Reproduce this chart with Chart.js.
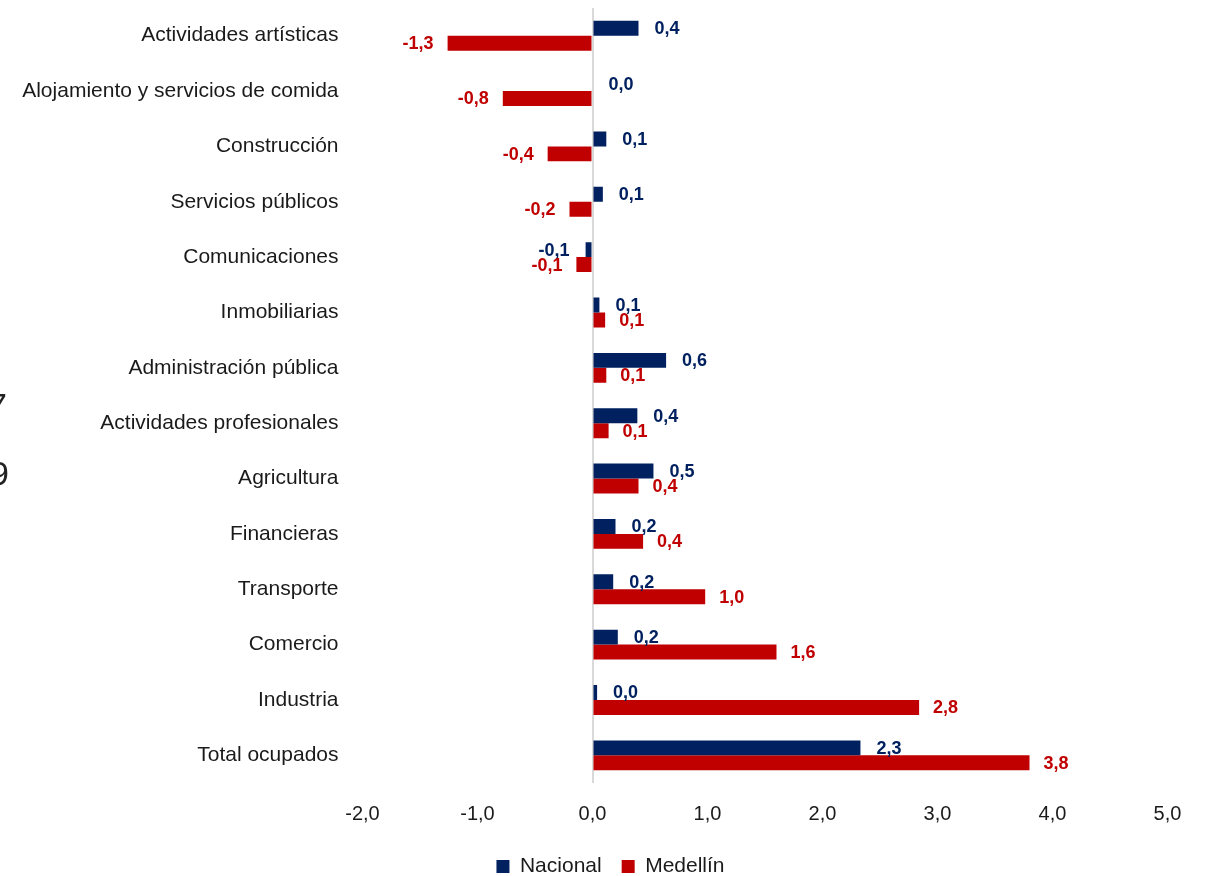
<!DOCTYPE html>
<html lang="es">
<head>
<meta charset="utf-8">
<script src="https://cdn.jsdelivr.net/npm/chart.js@4.4.1/dist/chart.umd.min.js"></script>
<style>
  html, body { margin: 0; padding: 0; background: #ffffff; }
  #wrap { width: 1211px; height: 876px; position: relative; }
</style>
</head>
<body>
<div id="wrap"><canvas id="grafico"></canvas></div>
<script>
// Sectores (de arriba hacia abajo)
const sectores = [
  'Actividades artísticas',
  'Alojamiento y servicios de comida',
  'Construcción',
  'Servicios públicos',
  'Comunicaciones',
  'Inmobiliarias',
  'Administración pública',
  'Actividades profesionales',
  'Agricultura',
  'Financieras',
  'Transporte',
  'Comercio',
  'Industria',
  'Total ocupados'
];

// Contribución por sector (p.p.)
const nacional = [0.40, 0.00, 0.12, 0.09, -0.06, 0.06, 0.64, 0.39, 0.53, 0.20, 0.18, 0.22, 0.04, 2.33];
const medellin = [-1.26, -0.78, -0.39, -0.20, -0.14, 0.11, 0.12, 0.14, 0.40, 0.44, 0.98, 1.60, 2.84, 3.80];

// Eje x
const ejeMin = -2;
const ejeMax = 5;

const colores = {
  nacional: '#002060',
  medellin: '#C00000',
  texto: '#1a1a1a',
  cero: '#d9d9d9'
};

const fuente = "'Liberation Sans', Arial, sans-serif";

function coma(v) {
  return v.toFixed(1).replace('.', ',');
}

// Etiquetas de datos al final de cada barra
const etiquetasDatos = {
  id: 'etiquetasDatos',
  afterDatasetsDraw(chart) {
    const ctx = chart.ctx;
    ctx.save();
    ctx.font = "bold 18px " + fuente;
    ctx.textBaseline = 'middle';
    chart.data.datasets.forEach((ds, i) => {
      const meta = chart.getDatasetMeta(i);
      const sep = i === 0 ? 16 : 14;
      meta.data.forEach((bar, j) => {
        const v = ds.data[j];
        ctx.fillStyle = ds.backgroundColor;
        if (v < 0) {
          ctx.textAlign = 'right';
          ctx.fillText(coma(v), bar.x - sep, bar.y + 1);
        } else {
          ctx.textAlign = 'left';
          ctx.fillText(coma(v), bar.x + sep, bar.y + 1);
        }
      });
    });
    ctx.restore();
  }
};

// Restos de texto recortados en el borde izquierdo
const recortes = {
  id: 'recortes',
  afterDraw(chart) {
    const ctx = chart.ctx;
    ctx.save();
    ctx.font = "34px " + fuente;
    ctx.fillStyle = '#222222';
    ctx.textAlign = 'right';
    ctx.textBaseline = 'alphabetic';
    ctx.fillText('7', 7, 417);
    ctx.fillText('9', 9, 485);
    ctx.restore();
  }
};

document.addEventListener('DOMContentLoaded', function() {
  const canvas = document.getElementById('grafico');
  new Chart(canvas, {
    type: 'bar',
    data: {
      labels: sectores,
      datasets: [
        {
          label: 'Nacional',
          data: nacional,
          backgroundColor: colores.nacional,
          barPercentage: 1,
          categoryPercentage: 0.54
        },
        {
          label: 'Medellín',
          data: medellin,
          backgroundColor: colores.medellin,
          barPercentage: 1,
          categoryPercentage: 0.54
        }
      ]
    },
    options: {
      indexAxis: 'y',
      responsive: true,
      maintainAspectRatio: false,
      animation: false,
      layout: {
        padding: { top: 8, right: 0, bottom: -11, left: 10 }
      },
      scales: {
        x: {
          min: ejeMin,
          max: ejeMax,
          ticks: {
            stepSize: 1,
            padding: 19,
            color: colores.texto,
            font: { family: fuente, size: 20 },
            callback: function(v) { return coma(v); }
          },
          grid: {
            drawTicks: false,
            lineWidth: 2,
            color: function(c) {
              return c.tick && c.tick.value === 0 ? colores.cero : 'rgba(0,0,0,0)';
            }
          },
          border: { display: false },
          afterFit: function(scale) {
            scale.height = 53;
            scale.paddingLeft = 0;
            scale.paddingRight = 43.5;
          }
        },
        y: {
          ticks: {
            padding: 24,
            color: colores.texto,
            font: { family: fuente, size: 21 }
          },
          grid: { display: false, drawTicks: false },
          border: { display: false },
          afterFit: function(scale) {
            scale.width = 352.5;
            scale.paddingTop = 0;
            scale.paddingBottom = 0;
          }
        }
      },
      plugins: {
        legend: {
          position: 'bottom',
          labels: {
            boxWidth: 13,
            boxHeight: 13,
            padding: 20,
            color: colores.texto,
            font: { family: fuente, size: 21 }
          }
        },
        tooltip: { enabled: false }
      }
    },
    plugins: [etiquetasDatos, recortes]
  });
});
</script>
</body>
</html>
